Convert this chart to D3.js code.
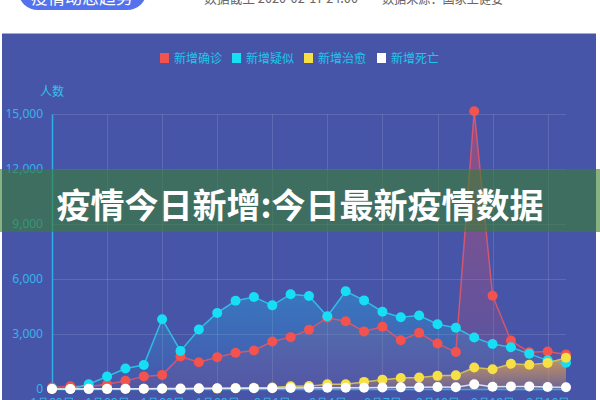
<!DOCTYPE html>
<html>
<head>
<meta charset="utf-8">
<script src="https://cdn.jsdelivr.net/npm/d3@7"></script>
<style>
html,body{margin:0;padding:0;background:#fff;overflow:hidden;}
svg{display:block;font-family:"Noto Sans CJK SC","Noto Sans",sans-serif;}
</style>
</head>
<body>
<svg id="c" width="600" height="400"></svg>
<script>
const dates = ["1月20日","1月21日","1月22日","1月23日","1月24日","1月25日","1月26日","1月27日","1月28日","1月29日","1月30日","1月31日","2月1日","2月2日","2月3日","2月4日","2月5日","2月6日","2月7日","2月8日","2月9日","2月10日","2月11日","2月12日","2月13日","2月14日","2月15日","2月16日","2月17日"];
const confirmed = [77,149,131,259,444,688,769,1771,1459,1737,1982,2102,2590,2829,3235,3887,3694,3143,3399,2656,3062,2478,2015,15152,5090,2641,2009,2048,1886];
const suspected = [27,0,257,680,1118,1309,3806,2077,3248,4148,4812,5019,4562,5173,5072,3971,5328,4833,4214,3916,4008,3536,3342,2807,2450,2277,1918,1563,1432];
const cured = [0,0,3,6,3,11,9,2,43,21,47,72,85,147,157,262,261,387,510,600,632,716,744,1171,1081,1373,1323,1425,1701];
const dead = [0,3,8,8,16,15,24,26,26,38,43,46,45,57,64,65,73,73,86,89,97,108,97,254,121,143,142,105,98];
const seriesNames = ["新增确诊","新增疑似","新增治愈","新增死亡"];
const yTicks = [0,3000,6000,9000,12000,15000];
const bannerText = "疫情今日新增:今日最新疫情数据";
const buttonText = "疫情动态趋势";
const headerTexts = ["数据截至 2020-02-17 24:00","数据来源：国家卫健委"];

const colors = ["#f2534f","#16def5","#f7e046","#ffffff"];
const lineColors = ["#e0566a","#2ec6ea","#d8c95a","#e8ecff"];
const areaColors = ["#e84a5f","#16c8f5","#f2a443","#ffffff"];
const areaTop = [0.45,0.3,0.75,0.0];
const areaBottom = [0.08,0.02,0.15,0.0];

const svg = d3.select("#c");

// page header (partially cut)
svg.append("rect").attr("x",18).attr("y",-30).attr("width",129).attr("height",40).attr("rx",20).attr("fill","#5572ee");
svg.append("text").attr("x",82).attr("y",4).attr("text-anchor","middle").attr("fill","#fff").attr("font-size",17).text(buttonText);
svg.append("text").attr("x",204).attr("y",3).attr("fill","#666").attr("font-size",14)
  .attr("textLength",154).attr("lengthAdjust","spacingAndGlyphs").text(headerTexts[0]);
svg.append("text").attr("x",382).attr("y",3).attr("fill","#666").attr("font-size",14)
  .attr("textLength",121).attr("lengthAdjust","spacingAndGlyphs").text(headerTexts[1]);

// panel
svg.append("rect").attr("x",2).attr("y",33).attr("width",594).attr("height",380).attr("fill","#4755a9");
svg.append("line").attr("x1",2).attr("x2",596).attr("y1",33.5).attr("y2",33.5).attr("stroke","#9fa9e2").attr("stroke-width",1);

const x = d3.scalePoint().domain(dates).range([52,566]);
const y = d3.scaleLinear().domain([0,15000]).range([389,114]);

// grid
const g = svg.append("g");
g.selectAll(".hg").data(yTicks.slice(1)).enter().append("line")
  .attr("x1",52).attr("x2",566).attr("y1",d=>Math.round(y(d))+0.5).attr("y2",d=>Math.round(y(d))+0.5)
  .attr("stroke","rgba(255,255,255,0.12)");
g.selectAll(".vg").data(dates.filter((d,i)=>i%3===0 && i>0)).enter().append("line")
  .attr("x1",d=>Math.round(x(d))+0.5).attr("x2",d=>Math.round(x(d))+0.5).attr("y1",114).attr("y2",389)
  .attr("stroke","rgba(255,255,255,0.12)");

// gradients
const defs = svg.append("defs");
areaColors.forEach((c,i)=>{
  const lg = defs.append("linearGradient").attr("id","ag"+i).attr("x1",0).attr("y1",0).attr("x2",0).attr("y2",1);
  lg.append("stop").attr("offset","0%").attr("stop-color",c).attr("stop-opacity",areaTop[i]);
  lg.append("stop").attr("offset","100%").attr("stop-color",c).attr("stop-opacity",areaBottom[i]);
});

const allSeries = [confirmed,suspected,cured,dead];
const area = d3.area().x((d,i)=>x(dates[i])).y0(y(0)).y1(d=>y(d));
const line = d3.line().x((d,i)=>x(dates[i])).y(d=>y(d));

allSeries.forEach((s,i)=>{
  if(areaTop[i]>0) svg.append("path").attr("d",area(s)).attr("fill",`url(#ag${i})`);
});

// axes
const yAxis = d3.axisLeft(y).tickValues(yTicks).tickFormat(d3.format(",")).tickSize(0).tickPadding(9);
const ya = svg.append("g").attr("transform","translate(52,0)").call(yAxis);
ya.select(".domain").attr("stroke","#2eaee6").attr("stroke-width",1.5);
ya.selectAll("text").attr("fill","#36b4ea").attr("font-size",12).attr("font-family","'Noto Sans','Open Sans',sans-serif");

const xAxis = d3.axisBottom(x).tickValues(dates.filter((d,i)=>i%3===0)).tickSize(0).tickPadding(9);
const xa = svg.append("g").attr("transform","translate(0,389)").call(xAxis);
xa.select(".domain").attr("stroke","#2eaee6").attr("stroke-width",1.5);
xa.selectAll("text").attr("fill","#36b4ea").attr("font-size",12);

svg.append("text").attr("x",52).attr("y",96).attr("text-anchor","middle").attr("fill","#36c0ea").attr("font-size",12).text("人数");

allSeries.forEach((s,i)=>{
  svg.append("path").attr("d",line(s)).attr("fill","none").attr("stroke",lineColors[i]).attr("stroke-width",1.5).attr("stroke-opacity",0.9);
  svg.append("g").selectAll("circle").data(s).enter().append("circle")
    .attr("cx",(d,j)=>x(dates[j])).attr("cy",d=>y(d)).attr("r",5).attr("fill",colors[i]);
});

// legend
const legendX = [160,232,304,377];
const lg = svg.append("g");
seriesNames.forEach((n,i)=>{
  lg.append("rect").attr("x",legendX[i]).attr("y",53).attr("width",9).attr("height",10).attr("fill",colors[i]);
  lg.append("text").attr("x",legendX[i]+14).attr("y",62.5).attr("fill","#1fc6ea").attr("font-size",12).text(n);
});

// banner overlay
svg.append("rect").attr("x",0).attr("y",169).attr("width",600).attr("height",63).attr("fill","rgba(57,127,46,0.6)");
svg.append("text").attr("x",300).attr("y",218).attr("text-anchor","middle").attr("fill","#fff").attr("font-size",34).attr("font-weight","bold").text(bannerText);
</script>
</body>
</html>
